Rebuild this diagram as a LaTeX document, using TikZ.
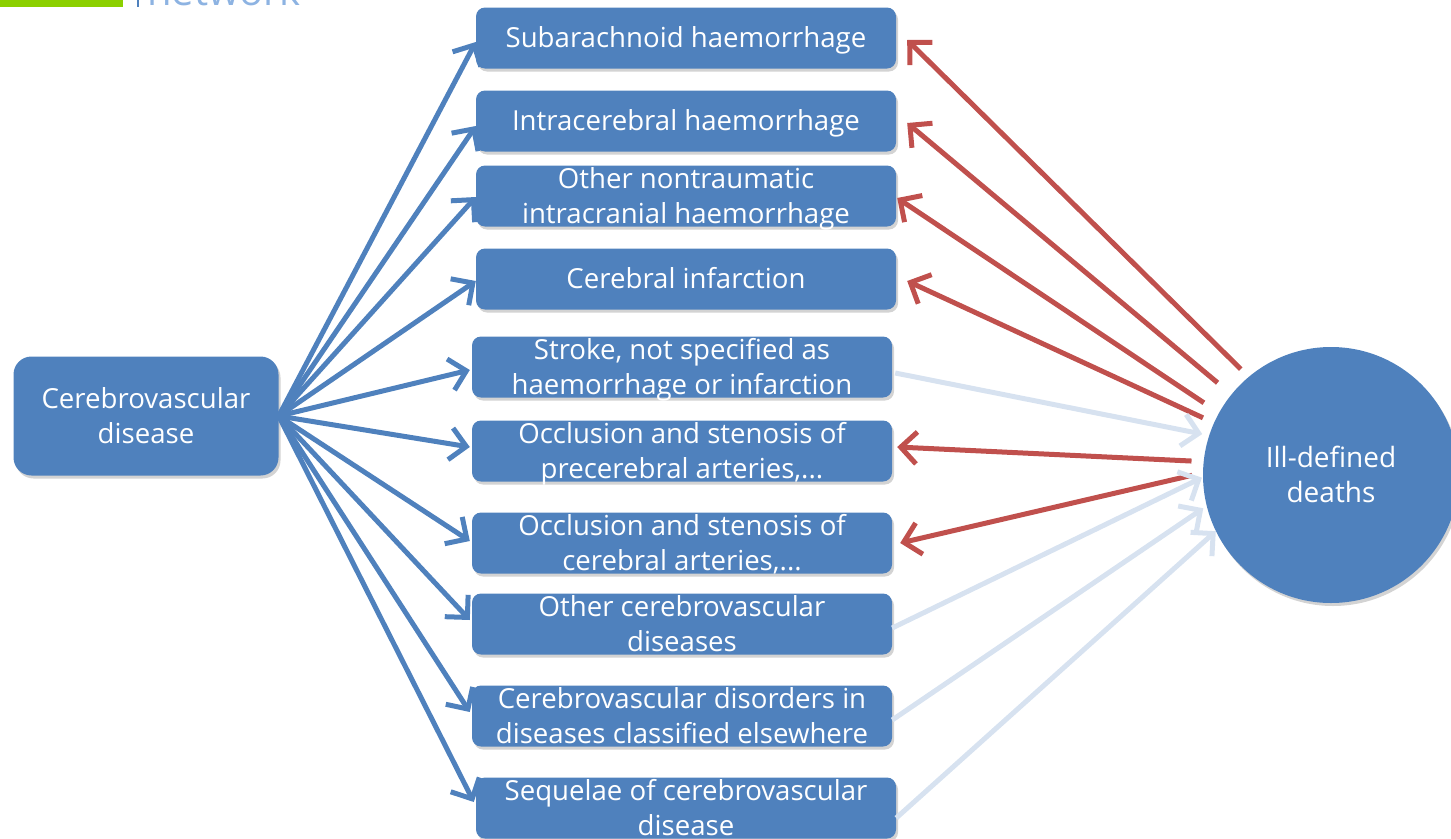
\documentclass[tikz,border=0pt]{standalone}
\usepackage{fontspec}
\setmainfont{Open Sans}
\usetikzlibrary{arrows.meta,shadows,calc}
\definecolor{boxblue}{HTML}{4F81BD}
\definecolor{arrred}{HTML}{C0504D}
\definecolor{arrlight}{HTML}{D7E2F0}
\definecolor{logogreen}{HTML}{8CD000}
\definecolor{logotext}{HTML}{8DB3E2}
\newcommand\onel[1]{\raisebox{-9.9pt}[0pt][0pt]{\begin{tabular}[t]{@{}c@{}}#1\end{tabular}}}
\newcommand\twol[1]{\raisebox{7.6pt}[0pt][0pt]{\begin{tabular}[t]{@{}c@{}}#1\end{tabular}}}
\begin{document}
\begin{tikzpicture}[x=1pt,y=-1pt,
  cat/.style={draw=none,fill=boxblue,rounded corners=9pt,minimum width=420pt,minimum height=61pt,
    text=white,inner sep=0pt,font=\fontsize{27.6}{35}\selectfont,
    drop shadow={opacity=0.35,shadow xshift=2pt,shadow yshift=-3pt}},
  arr/.style={line width=5pt,-{Straight Barb[length=16pt,width=32pt]}},
  bluearr/.style={arr,draw=boxblue},
  redarr/.style={arr,draw=arrred},
  lightarr/.style={arr,draw=arrlight},
]
\useasboundingbox (0,0) rectangle (1451,838);
% logo fragment
\fill[logogreen] (0,-20) rectangle (123,7);
\draw[boxblue,line width=2.5pt] (138,-20) -- (138,7);
\node[anchor=base west,inner sep=0pt,text=logotext,font=\fontsize{40}{42}\selectfont] (logo) at (147,5) {network};
% nodes
\node[cat] (b1) at (686,38) {\onel{Subarachnoid haemorrhage}};
\node[cat] (b2) at (686,121) {\onel{Intracerebral haemorrhage}};
\node[cat] (b3) at (686,196) {\twol{Other nontraumatic\\intracranial haemorrhage}};
\node[cat] (b4) at (686,279) {\onel{Cerebral infarction}};
\node[cat] (b5) at (682,367) {\twol{Stroke, not specified as\\haemorrhage or infarction}};
\node[cat] (b6) at (682,451) {\twol{Occlusion and stenosis of\\precerebral arteries,...}};
\node[cat] (b7) at (682,543) {\twol{Occlusion and stenosis of\\cerebral arteries,...}};
\node[cat] (b8) at (682,624) {\twol{Other cerebrovascular\\diseases}};
\node[cat] (b9) at (682,716) {\twol{Cerebrovascular disorders in\\diseases classified elsewhere}};
\node[cat] (b10) at (686,808) {\twol{Sequelae of cerebrovascular\\disease}};
\node[cat,minimum width=265pt,minimum height=119pt,rounded corners=18pt] (cd) at (146,416) {\twol{Cerebrovascular\\disease}};
\node[circle,fill=boxblue,minimum size=256pt,inner sep=0pt,text=white,
  font=\fontsize{28}{35}\selectfont,drop shadow={opacity=0.35,shadow xshift=2pt,shadow yshift=-3pt}] (ill) at (1331,475) {\twol{Ill-defined\\deaths}};
% blue arrows
\draw[bluearr] (cd.east) -- ([yshift=-4pt]b1.west);
\draw[bluearr] (cd.east) -- ([yshift=-5pt]b2.west);
\draw[bluearr] (cd.east) -- ([yshift=-1pt]b3.west);
\draw[bluearr] (cd.east) -- ([yshift=-2pt]b4.west);
\draw[bluearr] (cd.east) -- ([xshift=-2pt,yshift=-3pt]b5.west);
\draw[bluearr] (cd.east) -- ([xshift=-2pt,yshift=4pt]b6.west);
\draw[bluearr] (cd.east) -- ([xshift=-2pt,yshift=2pt]b7.west);
\draw[bluearr] (cd.east) -- ([xshift=-2pt,yshift=4pt]b8.west);
\draw[bluearr] (cd.east) -- ([xshift=-2pt,yshift=4pt]b9.west);
\draw[bluearr] (cd.east) -- ([xshift=-2pt,yshift=6pt]b10.west);
% red arrows
\draw[redarr,shorten <=11pt] (ill.130) -- ([xshift=11pt,yshift=-2pt]b1.east);
\draw[redarr,shorten <=18pt] (ill.141) -- ([xshift=11pt,yshift=-2pt]b2.east);
\draw[redarr,shorten <=18pt] (ill.151) -- ([xshift=1pt,yshift=-2pt]b3.east);
\draw[redarr,shorten <=12pt] (ill.156) -- ([xshift=11pt,yshift=-2pt]b4.east);
\draw[redarr,shorten <=12pt] (ill.174) -- ([xshift=5pt,yshift=4pt]b6.east);
\draw[redarr,shorten <=11pt] (ill.179) -- ([xshift=8pt]b7.east);
% light arrows
\draw[lightarr,shorten >=7pt] ([xshift=3pt,yshift=-6pt]b5.east) -- (ill.162);
\draw[lightarr,shorten >=1pt] ([yshift=-4pt]b8.east) -- (ill.181);
\draw[lightarr,shorten >=4pt] ([yshift=-4pt]b9.east) -- (ill.194);
\draw[lightarr,shorten >=0pt] ([xshift=0pt,yshift=-10pt]b10.east) -- (ill.206);
\end{tikzpicture}
\end{document}
